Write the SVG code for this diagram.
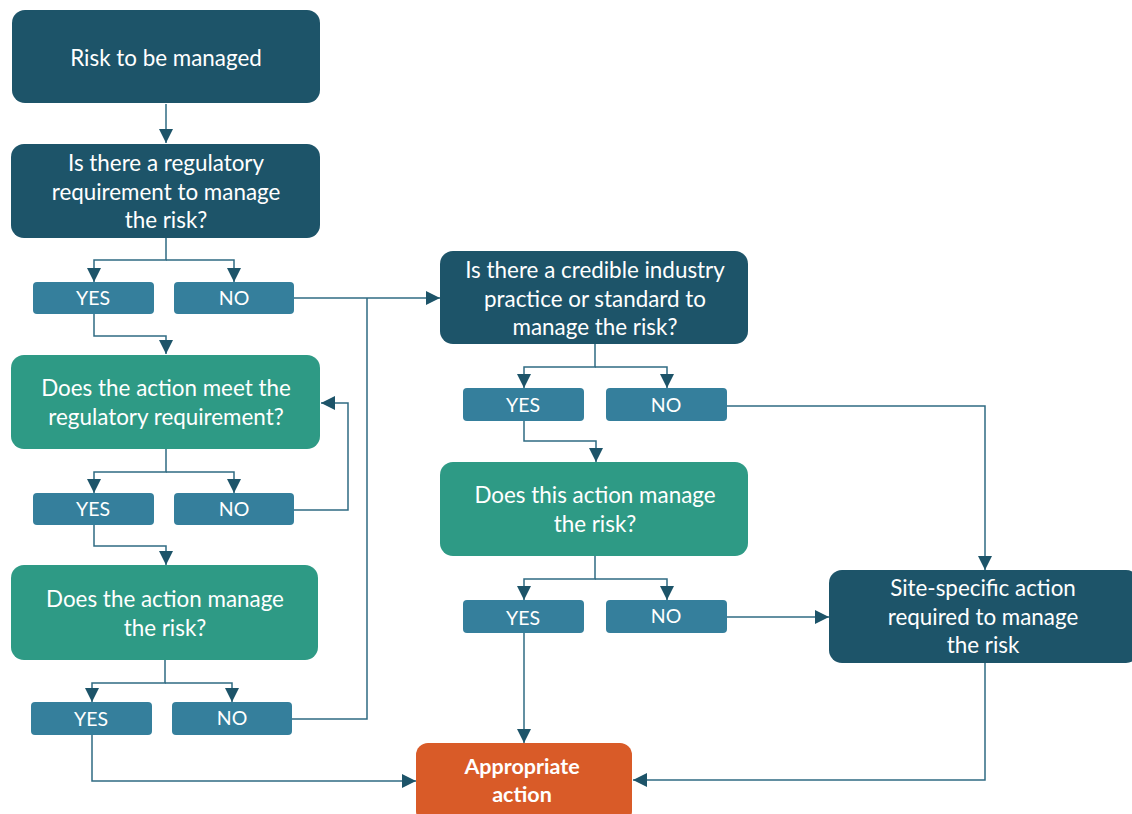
<svg xmlns="http://www.w3.org/2000/svg" width="1132" height="814" viewBox="0 0 1132 814">
<style>
.t{font-family:Lato,"Liberation Sans",sans-serif;font-size:22.4px;fill:#fff;text-anchor:middle}
.yn{font-family:Lato,"Liberation Sans",sans-serif;font-size:19.5px;fill:#fff;text-anchor:middle}
.b{font-weight:bold;font-size:21.5px}
.dark{fill:#1d5469}
.green{fill:#2e9a85}
.lab{fill:#357f9c}
.org{fill:#d95b28}
.c{fill:none;stroke:#2f6b83;stroke-width:1.5}
</style>
<defs>
<marker id="ar" viewBox="0 0 14 14" refX="14" refY="7" markerWidth="14" markerHeight="14" markerUnits="userSpaceOnUse" orient="auto">
<path d="M0,0 L14,7 L0,14 Z" fill="#1d5469"/>
</marker>
</defs>
<g id="connectors">
<path class="c" d="M166,104 V143" marker-end="url(#ar)"/>
<path class="c" d="M166,238 V260 H94 V282" marker-end="url(#ar)"/>
<path class="c" d="M166,260 H234 V282" marker-end="url(#ar)"/>
<path class="c" d="M294,298 H440" marker-end="url(#ar)"/>
<path class="c" d="M292,719 H367 V298"/>
<path class="c" d="M94,314 V336 H166 V354" marker-end="url(#ar)"/>
<path class="c" d="M294,510 H348 V403 H321" marker-end="url(#ar)"/>
<path class="c" d="M166,449 V472 H94 V493" marker-end="url(#ar)"/>
<path class="c" d="M166,472 H234 V493" marker-end="url(#ar)"/>
<path class="c" d="M94,525 V546 H166 V565" marker-end="url(#ar)"/>
<path class="c" d="M165,660 V683 H92 V702" marker-end="url(#ar)"/>
<path class="c" d="M165,683 H232 V702" marker-end="url(#ar)"/>
<path class="c" d="M92,735 V781 H416" marker-end="url(#ar)"/>
<path class="c" d="M595,344 V367 H524 V388" marker-end="url(#ar)"/>
<path class="c" d="M595,367 H667 V388" marker-end="url(#ar)"/>
<path class="c" d="M727,406 H985 V570" marker-end="url(#ar)"/>
<path class="c" d="M524,421 V441 H596 V462" marker-end="url(#ar)"/>
<path class="c" d="M595,556 V579 H524 V600" marker-end="url(#ar)"/>
<path class="c" d="M595,579 H667 V600" marker-end="url(#ar)"/>
<path class="c" d="M727,617 H829" marker-end="url(#ar)"/>
<path class="c" d="M524,633 V743" marker-end="url(#ar)"/>
<path class="c" d="M985,663 V780 H633" marker-end="url(#ar)"/>
</g>
<g id="n-risk">
<rect class="dark" x="12" y="10" width="308" height="93" rx="13"/>
<text class="t" x="166" y="66">Risk to be managed</text>
</g>
<g id="n-reg">
<rect class="dark" x="11" y="144" width="309" height="94" rx="13"/>
<text class="t" x="166" y="171">Is there a regulatory</text>
<text class="t" x="166" y="200">requirement to manage</text>
<text class="t" x="166" y="228">the risk?</text>
</g>
<g id="n-yes1"><rect class="lab" x="33" y="282" width="121" height="32" rx="4"/><text class="yn" x="93" y="305">YES</text></g>
<g id="n-no1"><rect class="lab" x="174" y="282" width="120" height="32" rx="4"/><text class="yn" x="234" y="305">NO</text></g>
<g id="n-meet">
<rect class="green" x="11" y="355" width="309" height="94" rx="13"/>
<text class="t" x="166" y="396">Does the action meet the</text>
<text class="t" x="166" y="425">regulatory requirement?</text>
</g>
<g id="n-yes2"><rect class="lab" x="33" y="493" width="121" height="32" rx="4"/><text class="yn" x="93" y="516">YES</text></g>
<g id="n-no2"><rect class="lab" x="174" y="493" width="120" height="32" rx="4"/><text class="yn" x="234" y="516">NO</text></g>
<g id="n-manage1">
<rect class="green" x="11" y="565" width="307" height="95" rx="13"/>
<text class="t" x="165" y="607">Does the action manage</text>
<text class="t" x="165" y="636">the risk?</text>
</g>
<g id="n-yes3"><rect class="lab" x="31" y="702" width="121" height="33" rx="4"/><text class="yn" x="91" y="726">YES</text></g>
<g id="n-no3"><rect class="lab" x="172" y="702" width="120" height="33" rx="4"/><text class="yn" x="232" y="725">NO</text></g>
<g id="n-industry">
<rect class="dark" x="440" y="251" width="308" height="93" rx="13"/>
<text class="t" x="595" y="278">Is there a credible industry</text>
<text class="t" x="595" y="307">practice or standard to</text>
<text class="t" x="595" y="335">manage the risk?</text>
</g>
<g id="n-yes4"><rect class="lab" x="463" y="388" width="121" height="33" rx="4"/><text class="yn" x="523" y="412">YES</text></g>
<g id="n-no4"><rect class="lab" x="606" y="388" width="121" height="33" rx="4"/><text class="yn" x="666" y="412">NO</text></g>
<g id="n-manage2">
<rect class="green" x="440" y="462" width="308" height="94" rx="13"/>
<text class="t" x="595" y="503">Does this action manage</text>
<text class="t" x="595" y="532">the risk?</text>
</g>
<g id="n-yes5"><rect class="lab" x="463" y="600" width="121" height="33" rx="4"/><text class="yn" x="523" y="625">YES</text></g>
<g id="n-no5"><rect class="lab" x="606" y="600" width="121" height="33" rx="4"/><text class="yn" x="666" y="623">NO</text></g>
<g id="n-site">
<rect class="dark" x="829" y="570" width="310" height="93" rx="13"/>
<text class="t" x="983" y="596">Site-specific action</text>
<text class="t" x="983" y="625">required to manage</text>
<text class="t" x="983" y="653">the risk</text>
</g>
<g id="n-appropriate">
<rect class="org" x="416" y="743" width="216" height="80" rx="12"/>
<text class="t b" x="522" y="774">Appropriate</text>
<text class="t b" x="522" y="802">action</text>
</g>
</svg>
